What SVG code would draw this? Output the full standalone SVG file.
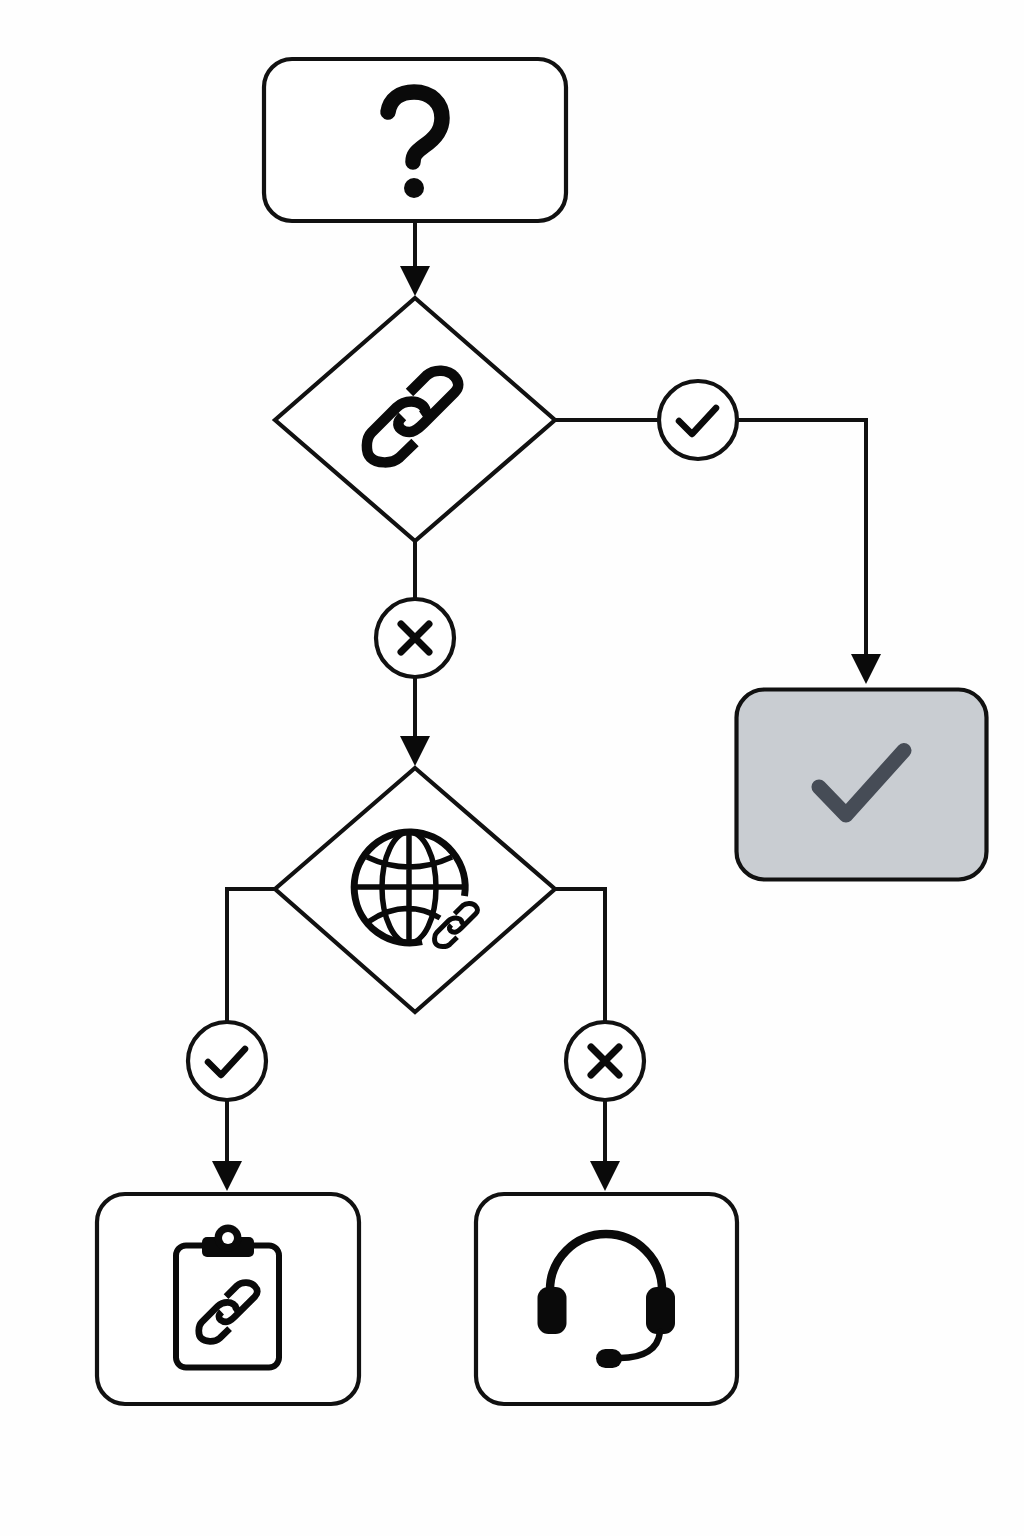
<svg xmlns="http://www.w3.org/2000/svg" width="1024" height="1536" viewBox="0 0 1024 1536">
<style>
.node{fill:#fff;stroke:#111;stroke-width:4.2}
.conn{fill:none;stroke:#111;stroke-width:4}
.ic{fill:none;stroke:#0a0a0a;stroke-linecap:round;stroke-linejoin:round}
.solid{fill:#0a0a0a;stroke:none}
.link{fill:none;stroke:#0a0a0a;stroke-width:10.5;stroke-linecap:butt}
</style>
<defs>
<marker id="arrow" markerUnits="userSpaceOnUse" markerWidth="30" markerHeight="30" viewBox="0 0 30 30" refX="1" refY="15" orient="auto"><path d="M0 0L30 15L0 30Z" fill="#0a0a0a"/></marker>
<path id="chain" d="M-3 -24L14 -41C22 -48 36 -47 42 -40C47 -35 47 -29 42 -24L11 7C6 12 1 15.5 -3 15.5C-10 15.5 -15 11 -14 6C-14 4 -12 2 -10 0M2.5 26L-13 41C-21 48 -36 47 -42 41C-47 36 -47 22 -41 16L-16 -9C-12 -13 -7 -15 -1 -15C6 -15 12 -11 13 -6C13 -4 11 -2 9.5 -1"/>
<path id="chk" d="M-19 1L-6 14L18 -12"/>
<path id="crs" d="M-14 -14L14 14M14 -14L-14 14"/>
</defs>
<rect width="1024" height="1536" fill="#fefefe"/>
<g id="connectors">
<path class="conn" d="M415 223V267" marker-end="url(#arrow)"/>
<path class="conn" d="M555 420H866V655" marker-end="url(#arrow)"/>
<path class="conn" d="M415 541V737" marker-end="url(#arrow)"/>
<path class="conn" d="M275 889H227V1162" marker-end="url(#arrow)"/>
<path class="conn" d="M555 889H605V1162" marker-end="url(#arrow)"/>
</g>
<g id="start">
<rect class="node" x="264" y="59" width="302" height="162" rx="28"/>
<path class="ic" stroke-width="15.5" d="M388 112C390 99 400 92 414 92C431 92 442 103 442 118C442 132 433 140 424 146C416 152 413 155 413 162"/>
<circle class="solid" cx="414" cy="188" r="10"/>
</g>
<g id="decision-link">
<path class="node" d="M415 298L555 420L415 541L275 420Z"/>
<use href="#chain" class="link" transform="translate(412.5 416.5)"/>
</g>
<g id="yes-1"><circle class="node" cx="698" cy="420" r="39"/><use href="#chk" class="ic" stroke-width="6.5" transform="translate(698 420)"/></g>
<g id="no-1"><circle class="node" cx="415" cy="638" r="39"/><use href="#crs" class="ic" stroke-width="7" transform="translate(415 638)"/></g>
<g id="success">
<rect class="node" x="736.5" y="689.5" width="250" height="190" rx="28" style="fill:#c9cdd2"/>
<path class="ic" style="stroke:#464c56" stroke-width="15" d="M819 787L846 815L904 750.5"/>
</g>
<g id="decision-web">
<path class="node" d="M415 768L555 889L415 1012L275 889Z"/>
<g class="ic" stroke-width="5.5" style="stroke-linecap:butt">
<ellipse cx="409" cy="887.5" rx="27" ry="55.5"/>
<path d="M409 832V943M353 887H465M367 857Q409 877 452 857M368 922Q405 897 440 918"/>
</g>
<path d="M426 955L486 895" stroke="#fff" stroke-width="27" stroke-linecap="round" fill="none"/>
<path class="ic" stroke-width="7" style="stroke-linecap:butt" d="M464.5 896A55.5 55.5 0 1 0 422 941.5"/>
<use href="#chain" class="link" transform="translate(456 925) scale(.47)"/>
</g>
<g id="yes-2"><circle class="node" cx="227" cy="1061" r="39"/><use href="#chk" class="ic" stroke-width="6.5" transform="translate(227 1061)"/></g>
<g id="no-2"><circle class="node" cx="605" cy="1061" r="39"/><use href="#crs" class="ic" stroke-width="7" transform="translate(605 1061)"/></g>
<g id="clipboard">
<rect class="node" x="97" y="1194" width="262" height="210" rx="28"/>
<rect x="176" y="1245.5" width="103" height="122" rx="10" fill="none" stroke="#0a0a0a" stroke-width="6"/>
<rect class="solid" x="202" y="1237" width="52" height="20" rx="5"/>
<circle class="solid" cx="228" cy="1238" r="13.5"/>
<circle cx="228" cy="1238" r="6" fill="#fff"/>
<use href="#chain" class="link" transform="translate(228 1312) scale(.64)"/>
</g>
<g id="support">
<rect class="node" x="476" y="1194" width="261" height="210" rx="28"/>
<path class="ic" stroke-width="8.5" style="stroke-linecap:butt" d="M550 1292V1290A56 56 0 0 1 662 1290V1292"/>
<rect class="solid" x="537.5" y="1287" width="29" height="47" rx="11"/>
<rect class="solid" x="646" y="1287" width="29" height="47" rx="11"/>
<path class="ic" stroke-width="6.5" d="M660 1332C658 1349 644 1358 620 1358"/>
<rect class="solid" x="596" y="1349" width="26" height="19" rx="9.5"/>
</g>
</svg>
